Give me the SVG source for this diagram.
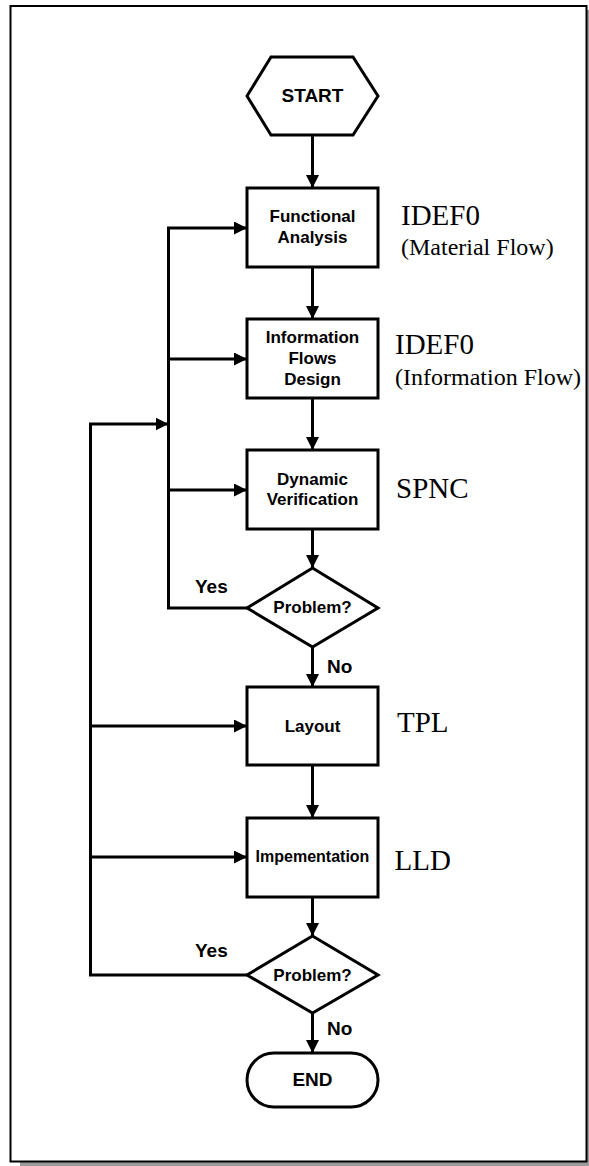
<svg xmlns="http://www.w3.org/2000/svg" width="589" height="1166" viewBox="0 0 589 1166">
  <defs>
    <marker id="arrow" markerUnits="userSpaceOnUse" markerWidth="14" markerHeight="14" refX="13" refY="6.5" orient="auto">
      <path d="M0,0 L13,6.5 L0,13 Z" fill="#000"/>
    </marker>
    <style>
      .shape { fill: #fff; stroke: #000; stroke-width: 3; }
      .wire { fill: none; stroke: #000; stroke-width: 3; }
      .lbl { font-family: "Liberation Sans", Arial, sans-serif; font-weight: bold; font-size: 17px; text-anchor: middle; fill: #000; }
      .big { font-size: 19px; }
      .side { font-family: "Liberation Serif", "Times New Roman", serif; font-size: 29px; fill: #000; }
      .sub { font-size: 24px; }
      .yn { font-family: "Liberation Sans", Arial, sans-serif; font-weight: bold; font-size: 19px; fill: #000; }
    </style>
  </defs>

  <!-- page frame with drop shadow -->
  <rect x="20" y="10" width="580" height="1156" fill="#9a9a9a"/>
  <rect x="10.5" y="6" width="576" height="1155.5" fill="#fff" stroke="#000" stroke-width="2"/>

  <!-- connectors -->
  <g id="connectors">
    <line class="wire" x1="312.5" y1="135" x2="312.5" y2="188" marker-end="url(#arrow)"/>
    <line class="wire" x1="312.5" y1="267" x2="312.5" y2="319" marker-end="url(#arrow)"/>
    <line class="wire" x1="312.5" y1="398" x2="312.5" y2="450" marker-end="url(#arrow)"/>
    <line class="wire" x1="312.5" y1="529" x2="312.5" y2="568" marker-end="url(#arrow)"/>
    <line class="wire" x1="312.5" y1="647" x2="312.5" y2="687" marker-end="url(#arrow)"/>
    <line class="wire" x1="312.5" y1="765" x2="312.5" y2="818" marker-end="url(#arrow)"/>
    <line class="wire" x1="312.5" y1="897" x2="312.5" y2="936" marker-end="url(#arrow)"/>
    <line class="wire" x1="312.5" y1="1013" x2="312.5" y2="1053" marker-end="url(#arrow)"/>

    <!-- inner loop: first decision back to analysis steps -->
    <polyline class="wire" points="247,608 168.5,608 168.5,228 247,228" marker-end="url(#arrow)"/>
    <line class="wire" x1="168.5" y1="359" x2="247" y2="359" marker-end="url(#arrow)"/>
    <line class="wire" x1="168.5" y1="490" x2="247" y2="490" marker-end="url(#arrow)"/>

    <!-- outer loop: second decision back to all steps -->
    <polyline class="wire" points="247,975 90.5,975 90.5,424 168.5,424" marker-end="url(#arrow)"/>
    <line class="wire" x1="90.5" y1="726" x2="247" y2="726" marker-end="url(#arrow)"/>
    <line class="wire" x1="90.5" y1="857" x2="247" y2="857" marker-end="url(#arrow)"/>

    <text class="yn" x="195" y="593">Yes</text>
    <text class="yn" x="327" y="673">No</text>
    <text class="yn" x="195" y="957">Yes</text>
    <text class="yn" x="327" y="1035">No</text>
  </g>

  <g id="start">
    <polygon class="shape" points="247,96 271,57 353,57 378,96 353,135 271,135"/>
    <text class="lbl big" x="312.5" y="102">START</text>
  </g>

  <g id="functional-analysis">
    <rect class="shape" x="247" y="188" width="131" height="79"/>
    <text class="lbl" x="312.5" y="222">Functional</text>
    <text class="lbl" x="312.5" y="243">Analysis</text>
    <text class="side" x="401" y="225">IDEF0</text>
    <text class="side sub" x="401" y="255">(Material Flow)</text>
  </g>

  <g id="information-flows-design">
    <rect class="shape" x="247" y="319" width="131" height="79"/>
    <text class="lbl" x="312.5" y="343">Information</text>
    <text class="lbl" x="312.5" y="364">Flows</text>
    <text class="lbl" x="312.5" y="385">Design</text>
    <text class="side" x="395" y="354">IDEF0</text>
    <text class="side sub" x="395" y="385">(Information Flow)</text>
  </g>

  <g id="dynamic-verification">
    <rect class="shape" x="247" y="450" width="131" height="79"/>
    <text class="lbl" x="312.5" y="485">Dynamic</text>
    <text class="lbl" x="312.5" y="505">Verification</text>
    <text class="side" x="396" y="498">SPNC</text>
  </g>

  <g id="problem-1">
    <polygon class="shape" points="312.5,568 378,608 312.5,647 247,608"/>
    <text class="lbl" x="312.5" y="613">Problem?</text>
  </g>

  <g id="layout">
    <rect class="shape" x="247" y="687" width="131" height="78"/>
    <text class="lbl" x="312.5" y="732">Layout</text>
    <text class="side" x="397" y="732">TPL</text>
  </g>

  <g id="implementation">
    <rect class="shape" x="247" y="818" width="131" height="79"/>
    <text class="lbl" x="312.5" y="862" style="font-size:16px">Impementation</text>
    <text class="side" x="394.5" y="870">LLD</text>
  </g>

  <g id="problem-2">
    <polygon class="shape" points="312.5,936 378,975 312.5,1013 247,975"/>
    <text class="lbl" x="312.5" y="981">Problem?</text>
  </g>

  <g id="end">
    <rect class="shape" x="247" y="1053" width="131" height="54" rx="27" ry="27"/>
    <text class="lbl big" x="312.5" y="1086">END</text>
  </g>
</svg>
